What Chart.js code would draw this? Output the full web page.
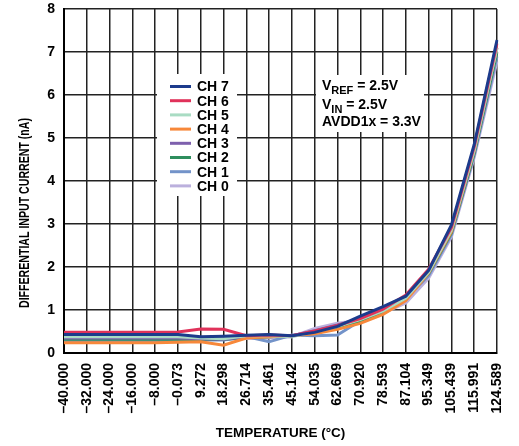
<!DOCTYPE html>
<html>
<head>
<meta charset="utf-8">
<script src="https://cdn.jsdelivr.net/npm/chart.js@4.4.1/dist/chart.umd.min.js"></script>
<style>
  html, body { margin: 0; padding: 0; background: #fff; }
</style>
</head>
<body>
<canvas id="diffChart" width="519" height="446"></canvas>
<script>
// temperature categories (x axis)
const temps = ["–40.000", "–32.000", "–24.000", "–16.000", "–8.000", "–0.073", "9.272", "18.298", "26.714", "35.461",
  "45.142", "54.035", "62.669", "70.920", "78.593", "87.104", "95.349", "105.439", "115.991", "124.589"];

// differential input current, nA
const ch7 = [0.43, 0.43, 0.43, 0.43, 0.43, 0.43, 0.38, 0.39, 0.41, 0.43, 0.40, 0.48, 0.62, 0.86, 1.08, 1.32, 1.92, 2.98, 4.85, 7.28];
const ch6 = [0.48, 0.48, 0.48, 0.48, 0.48, 0.49, 0.56, 0.55, 0.40, 0.42, 0.40, 0.51, 0.64, 0.80, 1.02, 1.35, 1.95, 2.92, 4.80, 7.20];
const ch5 = [0.38, 0.38, 0.38, 0.38, 0.38, 0.38, 0.35, 0.33, 0.40, 0.40, 0.38, 0.50, 0.62, 0.78, 0.98, 1.28, 1.88, 2.86, 4.72, 7.10];
const ch4 = [0.24, 0.24, 0.24, 0.24, 0.24, 0.25, 0.26, 0.18, 0.35, 0.38, 0.40, 0.45, 0.55, 0.69, 0.90, 1.22, 1.86, 2.82, 4.70, 7.10];
const ch3 = [0.35, 0.35, 0.35, 0.35, 0.35, 0.35, 0.33, 0.32, 0.38, 0.40, 0.40, 0.52, 0.65, 0.80, 1.00, 1.30, 1.90, 2.86, 4.70, 7.10];
const ch2 = [0.32, 0.32, 0.32, 0.32, 0.32, 0.32, 0.32, 0.32, 0.36, 0.38, 0.40, 0.48, 0.58, 0.75, 0.97, 1.28, 1.85, 2.80, 4.65, 7.00];
const ch1 = [0.29, 0.29, 0.29, 0.29, 0.29, 0.29, 0.30, 0.30, 0.38, 0.26, 0.42, 0.40, 0.42, 0.75, 0.95, 1.27, 1.80, 2.75, 4.60, 6.90];
const ch0 = [0.37, 0.37, 0.37, 0.37, 0.37, 0.37, 0.34, 0.32, 0.34, 0.35, 0.38, 0.57, 0.69, 0.76, 0.93, 1.16, 1.74, 2.70, 4.55, 6.78];

const chNames = ["CH 7", "CH 6", "CH 5", "CH 4", "CH 3", "CH 2", "CH 1", "CH 0"];
const chColors = ["#1c3b8c", "#e0325a", "#a9dcc3", "#f7883a", "#7e60ad", "#2f8e5e", "#7393c9", "#bbb0dd"];
const chValues = [ch7, ch6, ch5, ch4, ch3, ch2, ch1, ch0];

const yTicks = [0, 1, 2, 3, 4, 5, 6, 7, 8];

const FONT = "'Liberation Sans', Arial, sans-serif";

// legend box, condition text and y title
const extras = {
  id: 'extras',
  afterDraw(chart) {
    const ctx = chart.ctx;
    ctx.save();

    // y axis title (condensed to fit)
    ctx.fillStyle = '#000';
    ctx.font = 'bold 14px ' + FONT;
    ctx.textAlign = 'center';
    ctx.textBaseline = 'middle';
    ctx.translate(25, 213);
    ctx.rotate(-Math.PI / 2);
    ctx.fillText('DIFFERENTIAL INPUT CURRENT (nA)', 0, 0, 190);
    ctx.setTransform(1, 0, 0, 1, 0, 0);

    // legend
    ctx.fillStyle = '#fff';
    ctx.fillRect(157, 74, 80, 122);
    chart.data.datasets.forEach((ds, i) => {
      const y = 86.5 + i * 14.2;
      ctx.strokeStyle = ds.borderColor;
      ctx.lineWidth = 3;
      ctx.beginPath();
      ctx.moveTo(170, y);
      ctx.lineTo(191, y);
      ctx.stroke();
      ctx.fillStyle = '#000';
      ctx.font = 'bold 14px ' + FONT;
      ctx.textAlign = 'left';
      ctx.textBaseline = 'middle';
      ctx.fillText(ds.label, 197, y + 1);
    });

    // test conditions
    ctx.fillStyle = '#fff';
    ctx.fillRect(316, 75, 108, 57);
    ctx.fillStyle = '#000';
    ctx.textAlign = 'left';
    ctx.textBaseline = 'alphabetic';
    const sub = (main, s, rest, x, y) => {
      ctx.font = 'bold 14px ' + FONT;
      ctx.fillText(main, x, y);
      x += ctx.measureText(main).width;
      ctx.font = 'bold 11px ' + FONT;
      ctx.fillText(s, x, y + 4);
      x += ctx.measureText(s).width;
      ctx.font = 'bold 14px ' + FONT;
      ctx.fillText(rest, x, y);
    };
    sub('V', 'REF', ' = 2.5V', 322, 90);
    sub('V', 'IN', ' = 2.5V', 322, 108.5);
    ctx.font = 'bold 14px ' + FONT;
    ctx.fillText('AVDD1x = 3.3V', 322, 126);
    ctx.restore();
  }
};

const ctx1 = document.getElementById('diffChart').getContext('2d');
new Chart(ctx1, {
  type: 'line',
  data: {
    labels: temps,
    datasets: chValues.map((vals, i) => ({
      label: chNames[i],
      data: vals,
      borderColor: chColors[i],
      backgroundColor: chColors[i],
      borderWidth: 3,
      pointRadius: 0,
      tension: 0,
      fill: false
    }))
  },
  options: {
    responsive: false,
    animation: false,
    devicePixelRatio: 1,
    layout: { padding: { top: 9, right: 22, left: 0, bottom: 0 } },
    plugins: {
      legend: { display: false },
      tooltip: { enabled: false }
    },
    scales: {
      x: {
        offset: false,
        afterFit(scale) {
          scale.height = 93;
          scale.paddingLeft = 0;
          scale.paddingRight = 0;
        },
        grid: {
          color: '#222',
          lineWidth: 1.5,
          drawTicks: false
        },
        border: { color: '#000', width: 2 },
        ticks: {
          autoSkip: false,
          minRotation: 90,
          maxRotation: 90,
          padding: 10,
          color: '#000',
          font: { size: 14, weight: 'bold', family: FONT }
        },
        title: {
          display: true,
          text: 'TEMPERATURE (°C)',
          color: '#000',
          padding: { top: 0, bottom: 5 },
          font: { size: 13.5, weight: 'bold', family: FONT }
        }
      },
      y: {
        min: 0,
        max: 8,
        afterFit(scale) {
          scale.width = 64;
          scale.paddingTop = 0;
          scale.paddingBottom = 0;
        },
        afterBuildTicks(scale) { scale.ticks = yTicks.map(v => ({ value: v })); },
        grid: {
          color: '#222',
          lineWidth: 1.5,
          drawTicks: false
        },
        border: { color: '#000', width: 2 },
        ticks: {
          padding: 9,
          color: '#000',
          font: { size: 14, weight: 'bold', family: FONT }
        }
      }
    }
  },
  plugins: [extras]
});
</script>
</body>
</html>
